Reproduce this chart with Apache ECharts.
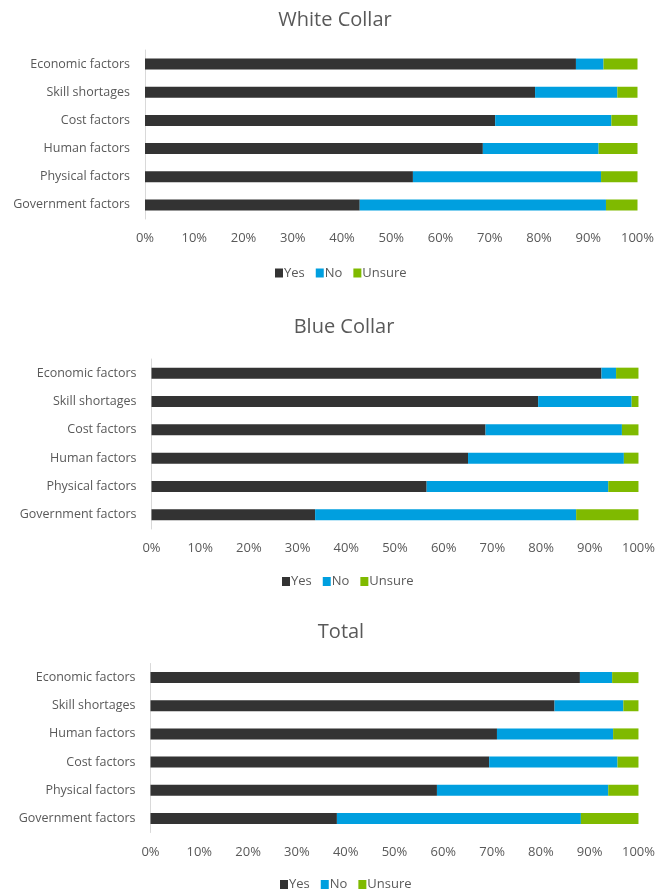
<!DOCTYPE html>
<html><head><meta charset="utf-8">
<script src="https://cdn.jsdelivr.net/npm/echarts@6/dist/echarts.min.js"></script>
<style>html,body{margin:0;padding:0;background:#fff}#c{width:658px;height:889px}</style>
</head><body><div id="c"></div>
<script>
const catsWhite = ['Economic factors','Skill shortages','Cost factors','Human factors','Physical factors','Government factors'];
const whiteYes = [87.5, 79.2, 71.1, 68.6, 54.4, 43.6];
const whiteNo = [5.6, 16.7, 23.6, 23.5, 38.2, 50.0];
const whiteUnsure = [6.9, 4.1, 5.3, 7.9, 7.4, 6.4];

const catsBlue = ['Economic factors','Skill shortages','Cost factors','Human factors','Physical factors','Government factors'];
const blueYes = [92.4, 79.4, 68.6, 65.0, 56.5, 33.6];
const blueNo = [3.0, 19.2, 28.0, 32.0, 37.3, 53.6];
const blueUnsure = [4.6, 1.4, 3.4, 3.0, 6.2, 12.8];

const catsTotal = ['Economic factors','Skill shortages','Human factors','Cost factors','Physical factors','Government factors'];
const totalYes = [88.0, 82.8, 71.0, 69.4, 58.7, 38.2];
const totalNo = [6.6, 14.1, 23.8, 26.3, 35.1, 50.0];
const totalUnsure = [5.4, 3.1, 5.2, 4.3, 6.2, 11.8];

const titles = ['White Collar','Blue Collar','Total'];
const xTicks = [0,10,20,30,40,50,60,70,80,90,100];
const seriesNames = ['Yes','No','Unsure'];

const FONT = '"Open Sans", sans-serif';
const TXT = '#595959';
const colors = {Yes:'#333333', No:'#009fdf', Unsure:'#7fba00'};

const panels = [
  {cats: catsWhite, data: [whiteYes, whiteNo, whiteUnsure], grid:{left:145, right:20.5, top:50, height:169}, title:{x:330, y:5}, legend:{x:270, y:261.5}},
  {cats: catsBlue, data: [blueYes, blueNo, blueUnsure], grid:{left:151.5, right:14, top:359, height:170}, title:{x:339, y:312}, legend:{x:277, y:570}},
  {cats: catsTotal, data: [totalYes, totalNo, totalUnsure], grid:{left:150.5, right:15, top:663.5, height:169}, title:{x:336, y:617}, legend:{x:275, y:873}}
];

const option = {
  animation:false,
  backgroundColor:'#fff',
  textStyle:{fontFamily:FONT},
  title: panels.map((p,i)=>({text:titles[i], left:p.title.x, top:p.title.y, textAlign:'center',
    textStyle:{fontFamily:FONT, fontSize:20, fontWeight:'normal', color:TXT}})),
  legend: panels.map(p=>({data:seriesNames, left:p.legend.x, top:p.legend.y, itemWidth:8, itemHeight:9, itemGap:11,
    icon:'rect', textStyle:{fontFamily:FONT, fontSize:13, color:TXT, padding:[0,0,0,-4]}, selectedMode:false})),
  grid: panels.map(p=>Object.assign({containLabel:false}, p.grid)),
  xAxis: panels.map((p,i)=>({type:'value', gridIndex:i, min:xTicks[0], max:xTicks[xTicks.length-1], interval:xTicks[1]-xTicks[0],
    axisLine:{show:false}, axisTick:{show:false}, splitLine:{show:false},
    axisLabel:{formatter:'{value}%', fontFamily:FONT, fontSize:13, color:TXT, margin:13}})),
  yAxis: panels.map((p,i)=>({type:'category', gridIndex:i, data:p.cats, inverse:true,
    axisLine:{show:true, lineStyle:{color:'#d9d9d9', width:1}}, axisTick:{show:false},
    axisLabel:{fontFamily:FONT, fontSize:12.5, color:TXT, margin:15}})),
  series: []
};
panels.forEach((p,i)=>{
  seriesNames.forEach((n,k)=>{
    option.series.push({name:n, type:'bar', stack:'s'+i, xAxisIndex:i, yAxisIndex:i, data:p.data[k],
      barWidth:11, itemStyle:{color:colors[n]}});
  });
});
const chart = echarts.init(document.getElementById('c'), null, {renderer:'canvas'});
chart.setOption(option);
</script></body></html>
